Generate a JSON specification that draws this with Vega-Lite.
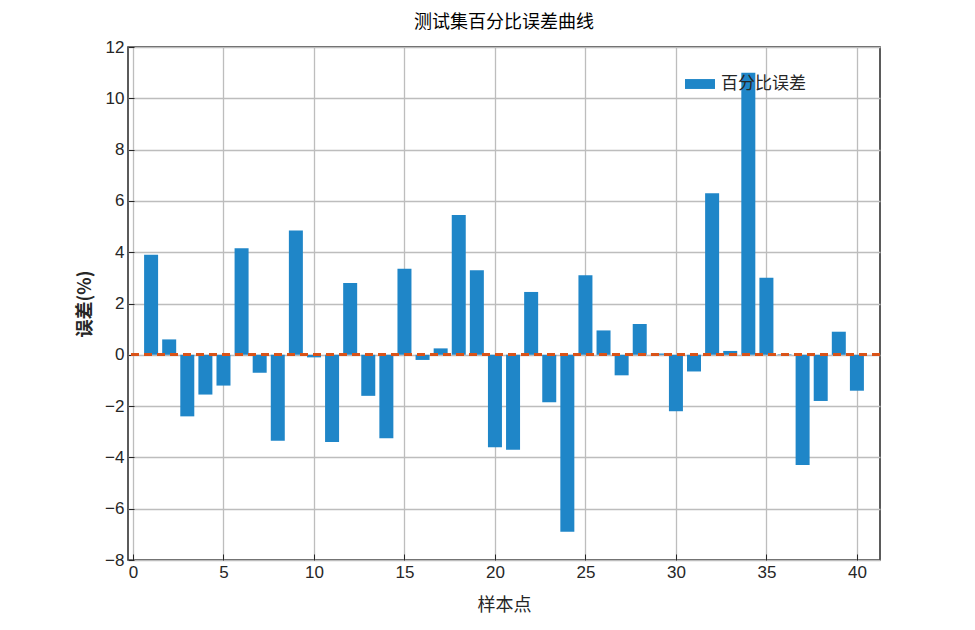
{
  "$schema": "https://vega.github.io/schema/vega-lite/v6.json",
  "width": 752,
  "height": 513,
  "autosize": "none",
  "padding": {"left": 128, "top": 47, "right": 95, "bottom": 70},
  "background": "white",
  "title": {"text": "测试集百分比误差曲线", "font": "Noto Sans CJK SC", "fontSize": 18, "fontWeight": "normal", "color": "black", "offset": 6},
  "config": {
    "view": {"stroke": "#262626", "strokeWidth": 1.5},
    "font": "Liberation Sans"
  },
  "data": {"values": [
    {"x": 1, "err": 3.9}, {"x": 2, "err": 0.6}, {"x": 3, "err": -2.4}, {"x": 4, "err": -1.55},
    {"x": 5, "err": -1.2}, {"x": 6, "err": 4.15}, {"x": 7, "err": -0.7}, {"x": 8, "err": -3.35},
    {"x": 9, "err": 4.85}, {"x": 10, "err": -0.1}, {"x": 11, "err": -3.4}, {"x": 12, "err": 2.8},
    {"x": 13, "err": -1.6}, {"x": 14, "err": -3.25}, {"x": 15, "err": 3.35}, {"x": 16, "err": -0.2},
    {"x": 17, "err": 0.25}, {"x": 18, "err": 5.45}, {"x": 19, "err": 3.3}, {"x": 20, "err": -3.6},
    {"x": 21, "err": -3.7}, {"x": 22, "err": 2.45}, {"x": 23, "err": -1.85}, {"x": 24, "err": -6.9},
    {"x": 25, "err": 3.1}, {"x": 26, "err": 0.95}, {"x": 27, "err": -0.8}, {"x": 28, "err": 1.2},
    {"x": 29, "err": 0.05}, {"x": 30, "err": -2.2}, {"x": 31, "err": -0.65}, {"x": 32, "err": 6.3},
    {"x": 33, "err": 0.15}, {"x": 34, "err": 11.0}, {"x": 35, "err": 3.0}, {"x": 36, "err": 0.02},
    {"x": 37, "err": -4.3}, {"x": 38, "err": -1.8}, {"x": 39, "err": 0.9}, {"x": 40, "err": -1.4}
  ]},
  "layer": [
    {
      "mark": {"type": "bar", "width": 14, "color": "#1f86c8"},
      "encoding": {
        "x": {"field": "x", "type": "quantitative", "scale": {"domain": [0, 41], "nice": false},
          "axis": {"values": [0,5,10,15,20,25,30,35,40], "title": "样本点", "titleFont": "Noto Sans CJK SC", "titleFontSize": 18, "titleFontWeight": "normal", "titleColor": "#262626",
            "labelFontSize": 17, "labelColor": "#262626", "tickSize": -6, "tickColor": "#262626", "domain": false, "grid": true, "gridColor": "#bdbdbd", "gridWidth": 1.3, "labelPadding": 10, "titlePadding": 16}},
        "y": {"field": "err", "type": "quantitative", "scale": {"domain": [-8, 12], "nice": false},
          "axis": {"values": [-8,-6,-4,-2,0,2,4,6,8,10,12], "title": "误差(%)", "titleFont": "Noto Sans CJK SC", "titleFontSize": 18, "titleFontWeight": "bold", "titleColor": "#262626",
            "labelFontSize": 17, "labelColor": "#262626", "tickSize": -6, "tickColor": "#262626", "domain": false, "grid": true, "gridColor": "#bdbdbd", "gridWidth": 1.3, "labelPadding": 10, "titlePadding": 10}},
        "color": {"datum": "百分比误差", "type": "nominal", "scale": {"range": ["#1f86c8"]},
          "legend": {"title": null, "orient": "none", "legendX": 557, "legendY": 22, "symbolType": "M-1,-0.33H1V0.33H-1Z", "symbolSize": 900, "symbolStrokeWidth": 0, "labelFont": "Noto Sans CJK SC", "labelFontSize": 17, "labelColor": "#262626", "labelOffset": 6}}
      }
    },
    {
      "mark": {"type": "rule", "color": "#D95319", "strokeWidth": 2, "strokeDash": [8, 5]},
      "encoding": {"y": {"datum": 0}}
    }
  ]
}
